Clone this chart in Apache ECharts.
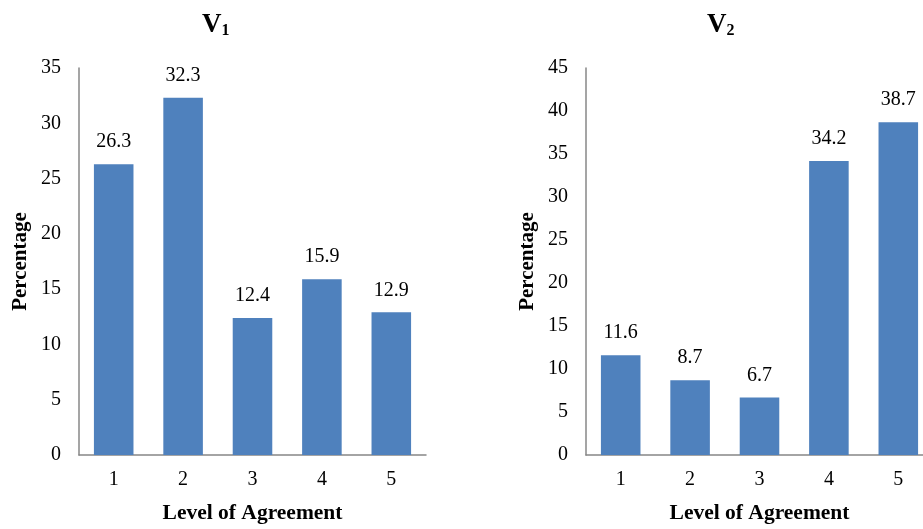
<!DOCTYPE html>
<html>
<head>
<meta charset="utf-8">
<script src="https://cdn.jsdelivr.net/npm/echarts@6/dist/echarts.min.js"></script>
<style>
  html, body { margin: 0; padding: 0; background: #fff; }
  /* the right panel runs a little past the frame edge and is cut there */
  #frame { width: 923px; height: 529px; overflow: hidden; position: relative; }
  #chart { width: 940px; height: 529px; position: absolute; left: 0; top: 0; }
</style>
</head>
<body>
<div id="frame"><div id="chart"></div></div>
<script>
// Agreement levels on the horizontal axis
const levels = ['1', '2', '3', '4', '5'];
// Percentage of respondents per level
const v1Values = [26.3, 32.3, 12.4, 15.9, 12.9];
const v2Values = [11.6, 8.7, 6.7, 34.2, 38.7];
// Vertical axis ranges
const v1Max = 35;
const v2Max = 45;
const tickStep = 5;

const serif = '"Liberation Serif", "Times New Roman", serif';
const barColor = '#4F81BD';
const axisColor = '#878787';

function titleFor(sub, left) {
  return {
    text: '{a|V}{b|' + sub + '}',
    left: left,
    top: 0,
    textStyle: {
      rich: {
        a: { fontFamily: serif, fontSize: 27, fontWeight: 'bold', color: '#000', lineHeight: 34, verticalAlign: 'bottom' },
        b: { fontFamily: serif, fontSize: 16, fontWeight: 'bold', color: '#000', lineHeight: 16, verticalAlign: 'bottom' }
      }
    }
  };
}

function xAxisFor(gridIndex) {
  return {
    type: 'category',
    gridIndex: gridIndex,
    data: levels,
    name: 'Level of Agreement',
    nameLocation: 'middle',
    nameGap: 47,
    nameTextStyle: { fontFamily: serif, fontSize: 21.5, fontWeight: 'bold', color: '#000' },
    axisLine: { show: true, lineStyle: { color: axisColor, width: 1.5 } },
    axisTick: { show: false },
    axisLabel: { fontFamily: serif, fontSize: 20, color: '#000', margin: 15 }
  };
}

function yAxisFor(gridIndex, max) {
  return {
    type: 'value',
    gridIndex: gridIndex,
    min: 0,
    max: max,
    interval: tickStep,
    name: 'Percentage',
    nameLocation: 'middle',
    nameGap: 48,
    nameRotate: 90,
    nameTextStyle: { fontFamily: serif, fontSize: 21, fontWeight: 'bold', color: '#000' },
    axisLine: { show: true, lineStyle: { color: axisColor, width: 1.5 } },
    axisTick: { show: false },
    splitLine: { show: false },
    axisLabel: { fontFamily: serif, fontSize: 20, color: '#000', margin: 18 }
  };
}

function barSeries(index, values) {
  return {
    type: 'bar',
    xAxisIndex: index,
    yAxisIndex: index,
    data: values,
    barWidth: '57%',
    itemStyle: { color: barColor },
    label: {
      show: true,
      position: 'top',
      distance: 12,
      fontFamily: serif,
      fontSize: 20,
      color: '#000',
      formatter: p => p.value.toFixed(1)
    }
  };
}

const chart = echarts.init(document.getElementById('chart'), null, { renderer: 'canvas' });
chart.setOption({
  animation: false,
  backgroundColor: '#fff',
  title: [titleFor('1', 197), titleFor('2', 702)],
  grid: [
    { left: 79, top: 68, width: 347, height: 390 },
    { left: 586, top: 68, width: 347, height: 390 }
  ],
  xAxis: [xAxisFor(0), xAxisFor(1)],
  yAxis: [yAxisFor(0, v1Max), yAxisFor(1, v2Max)],
  series: [barSeries(0, v1Values), barSeries(1, v2Values)]
});
</script>
</body>
</html>
